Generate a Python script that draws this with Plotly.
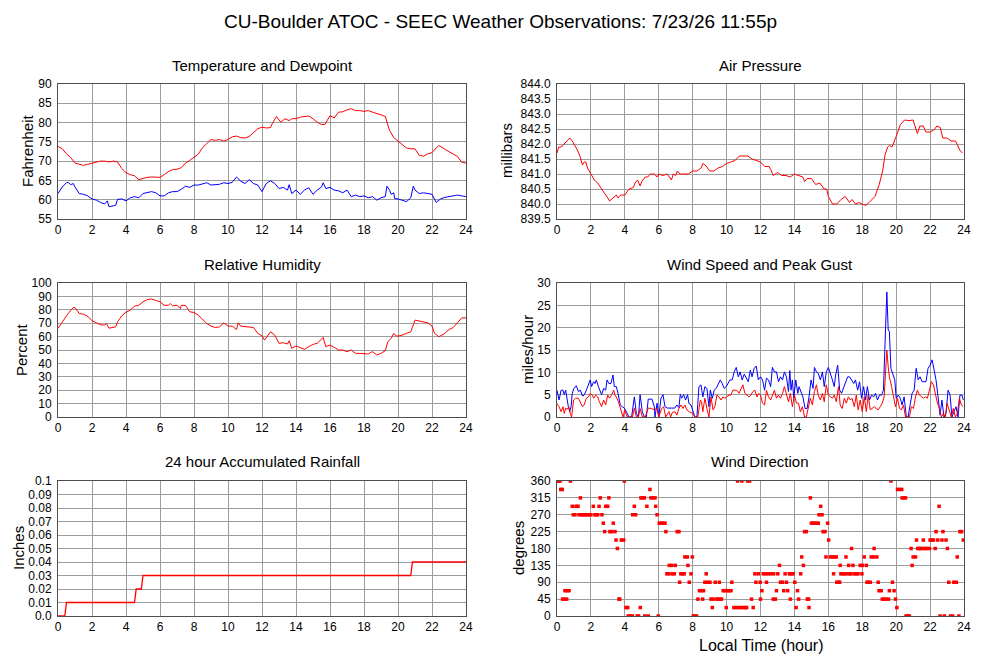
import plotly.graph_objects as go

# ---------------- data ----------------
hour_ticks = list(range(0, 25, 2))

temp_t = [0,0.25,0.5,0.75,1.0,1.25,1.5,1.75,2.0,2.25,2.5,2.75,3.0,3.25,3.5,3.75,4.0,4.25,4.5,4.75,
          5.0,5.25,5.5,5.75,6.0,6.25,6.5,6.75,7.0,7.25,7.5,7.75,8.0,8.25,8.5,8.75,9.0,9.25,9.5,9.75,
          10.0,10.25,10.5,10.75,11.0,11.25,11.5,11.75,12.0,12.25,12.5,12.6,12.85,13.1,13.35,13.6,13.75,
          14.0,14.25,14.5,14.75,15.0,15.25,15.5,15.7,16.0,16.25,16.5,16.75,17.0,17.25,17.5,17.75,18.0,
          18.25,18.5,18.75,19.0,19.25,19.5,19.75,20.0,20.25,20.5,20.75,21.0,21.25,21.5,21.75,22.0,22.25,
          22.4,22.75,23.0,23.25,23.5,23.75,24.0]
temperature = [73.8,73.2,71.9,70.9,69.5,69.2,68.9,69.2,69.5,69.7,70.0,70.0,69.8,70.0,69.8,68.1,67.0,66.5,66.2,65.2,
               65.6,65.8,65.9,65.9,65.8,66.5,67.3,67.8,67.9,68.3,69.5,70.2,70.9,71.8,73.5,74.5,75.6,75.4,75.6,75.2,
               75.6,76.3,76.5,76.1,76.0,76.4,77.5,78.4,78.8,78.6,78.7,79.7,81.6,80.1,81.0,80.5,81.0,
               81.0,81.4,81.6,81.7,81.0,80.1,79.5,79.5,81.8,81.2,82.7,82.8,83.3,83.6,83.1,83.1,82.9,
               83.1,82.7,82.4,82.0,81.6,78.0,76.1,75.2,74.4,73.4,73.2,73.2,71.5,71.3,71.9,72.2,73.4,
               74.1,73.1,72.5,71.9,71.2,69.7,69.5]

dew_t = [0,0.25,0.5,0.6,0.75,0.9,1.0,1.25,1.5,1.75,2.0,2.25,2.5,2.75,2.9,3.0,3.25,3.4,
         3.5,3.75,4.0,4.25,4.5,4.75,5.0,5.25,5.5,5.75,6.0,6.25,6.5,6.75,7.0,7.25,7.5,7.75,8.0,8.25,8.5,8.75,
         9.0,9.25,9.5,9.75,10.0,10.25,10.5,10.75,11.0,11.25,11.5,11.75,12.0,12.25,12.5,12.75,13.0,13.25,13.5,
         13.6,13.75,14.0,14.25,14.5,14.75,15.0,15.25,15.5,15.6,
         15.75,16.0,16.25,16.5,16.75,17.0,17.25,17.5,17.75,18.0,18.25,18.5,18.75,19.0,19.25,
         19.35,19.5,19.6,19.75,19.8,20.0,20.25,20.5,20.75,20.9,
         21.0,21.25,21.5,21.75,22.0,22.25,22.5,22.75,23.0,23.25,23.5,23.75,24.0]
dewpoint = [61.6,63.3,64.4,64.5,63.9,64.2,63.3,61.6,61.4,61.0,60.2,59.9,59.3,58.9,59.7,58.2,58.4,58.6,
            60.1,60.2,59.7,60.5,60.8,60.5,61.6,61.9,62.1,61.8,61.0,61.0,61.8,62.1,62.1,62.7,63.5,63.2,63.8,63.8,64.2,64.4,
            63.8,63.9,64.0,64.4,64.2,64.5,65.9,64.8,64.2,65.2,64.2,63.8,62.1,64.2,64.9,64.2,62.9,63.2,62.5,
            63.9,61.6,62.5,61.4,62.5,63.1,61.4,62.5,63.3,64.4,
            62.9,63.2,62.5,62.3,61.8,62.5,60.8,61.2,60.8,61.0,60.5,60.8,59.9,60.5,60.8,
            63.5,62.5,61.4,61.8,60.3,60.2,59.9,59.5,60.5,63.5,
            62.5,61.6,61.8,61.6,61.4,59.3,60.2,60.6,60.8,61.0,61.2,61.0,60.8]

pres_t = [0,0.1,0.25,0.4,0.5,0.6,0.75,0.9,1.0,1.2,
          1.35,1.5,1.6,1.7,1.8,2.0,2.2,2.4,2.6,2.75,
          3.0,3.1,3.3,3.5,3.6,3.75,4.0,4.25,4.5,4.6,
          4.75,4.9,5.0,5.2,5.35,5.5,5.75,5.9,6.0,6.25,
          6.5,6.6,6.75,6.85,7.0,7.1,7.25,7.5,7.75,8.0,
          8.25,8.5,8.6,8.75,9.0,9.25,9.5,9.75,10.0,10.25,
          10.5,10.75,11.0,11.25,11.5,11.75,12.0,12.25,12.5,12.6,
          12.75,13.0,13.25,13.5,13.75,14.0,14.25,14.5,14.6,14.75,
          15.0,15.25,15.5,15.75,15.9,16.0,16.25,16.5,16.75,17.0,
          17.25,17.4,17.6,17.8,18.0,18.2,18.4,18.6,18.75,19.0,
          19.2,19.35,19.5,19.6,19.75,20.0,20.25,20.5,20.75,21.0,
          21.25,21.4,21.6,21.75,22.0,22.25,22.4,22.6,22.75,23.0,
          23.25,23.5,23.75,23.9]
pressure = [841.7,841.9,841.9,842.0,842.05,842.1,842.2,842.1,842.0,841.8,
            841.6,841.3,841.4,841.4,841.2,841.0,840.8,840.7,840.5,840.4,
            840.2,840.1,840.2,840.3,840.2,840.3,840.3,840.5,840.55,840.7,
            840.8,840.6,840.75,840.9,840.9,841.0,841.0,840.9,841.0,840.95,
            841.0,840.9,840.8,841.0,840.95,841.1,841.0,841.0,841.0,841.1,
            841.1,841.2,841.35,841.3,841.1,841.1,841.2,841.25,841.35,841.4,
            841.45,841.6,841.6,841.6,841.5,841.45,841.4,841.25,841.25,841.15,
            840.95,841.05,840.95,840.95,840.9,841.0,840.95,840.9,840.75,840.85,
            840.85,840.65,840.7,840.5,840.5,840.25,840.0,840.0,840.15,840.25,
            840.05,840.15,840.0,840.05,840.0,839.95,840.05,840.15,840.25,840.65,
            841.1,841.65,841.9,841.95,841.9,842.25,842.65,842.8,842.78,842.8,
            842.35,842.6,842.6,842.4,842.4,842.48,842.6,842.55,842.2,842.2,
            842.1,842.1,841.8,841.7]

rh_t = [0,0.25,0.5,0.75,0.9,1.0,1.25,1.5,1.75,2.0,
        2.25,2.5,2.75,2.85,3.0,3.25,3.4,3.5,3.75,4.0,
        4.25,4.5,4.75,5.0,5.25,5.5,5.75,6.0,6.25,6.5,
        6.6,6.75,7.0,7.2,7.25,7.5,7.75,8.0,8.25,8.5,
        8.75,9.0,9.25,9.5,9.75,10.0,10.25,10.5,10.6,10.75,
        11.0,11.25,11.5,11.75,12.0,12.15,12.25,12.5,12.75,13.0,
        13.25,13.5,13.6,13.75,14.0,14.25,14.5,14.75,15.0,15.25,
        15.5,15.6,15.75,16.0,16.25,16.5,16.75,17.0,17.25,17.5,
        17.75,18.0,18.25,18.5,18.75,19.0,19.25,19.4,19.6,19.75,
        19.9,20.0,20.25,20.5,20.75,21.0,21.25,21.5,21.75,22.0,
        22.15,22.4,22.75,23.0,23.25,23.5,23.75,24.0]
humidity = [66.1,71.0,75.5,79.7,81.7,81.7,77.2,76.7,75.2,71.8,
            70.3,68.8,68.6,69.8,66.3,66.8,67.3,71.0,75.5,78.2,
            79.7,82.7,83.4,85.9,87.6,88.1,87.1,85.9,83.4,83.4,
            84.7,82.9,83.4,80.9,83.4,83.2,78.5,78.0,76.0,73.0,
            69.8,67.8,66.8,67.3,70.3,67.8,67.8,65.3,70.3,67.8,
            67.3,66.8,66.8,62.4,60.6,57.4,59.4,63.6,61.1,55.0,
            55.4,54.5,56.9,51.2,53.0,52.0,50.5,52.5,54.2,55.0,
            57.9,59.4,52.5,53.7,52.0,50.0,50.0,48.8,50.0,47.5,
            47.5,47.0,47.0,48.8,46.3,47.5,49.5,56.2,58.7,62.4,
            60.4,60.4,61.1,62.4,63.6,72.3,71.8,71.0,70.3,67.8,
            62.4,59.9,62.4,65.3,66.8,70.3,74.0,74.0]

gust_t = [0,0.12,0.24,0.35,0.43,0.51,0.67,0.75,0.83,0.9,
          1.0,1.14,1.26,1.38,1.5,1.6,1.73,1.85,1.96,2.04,
          2.16,2.24,2.32,2.44,2.55,2.63,2.75,2.87,2.95,3.06,
          3.18,3.3,3.38,3.5,3.6,3.73,3.85,3.97,4.09,4.24,
          4.4,4.56,4.68,4.8,4.9,5.03,5.15,5.27,5.38,5.5,
          5.6,5.74,5.78,5.9,6.0,6.13,6.25,6.37,6.5,6.76,
          6.95,7.07,7.19,7.27,7.35,7.47,7.58,7.7,7.78,7.9,
          8.0,8.13,8.25,8.37,8.49,8.6,8.72,8.84,8.96,9.04,
          9.16,9.27,9.39,9.5,9.63,9.74,9.86,9.98,10.1,10.2,
          10.33,10.45,10.57,10.69,10.8,10.92,11.04,11.16,11.28,11.4,
          11.5,11.63,11.75,11.87,
          12.0,12.12,12.24,12.35,12.47,12.6,12.7,12.82,12.94,13.06,
          13.18,13.3,13.41,13.53,13.65,13.73,13.8,13.88,13.96,14.08,
          14.2,14.27,14.4,14.5,14.63,14.75,14.86,14.98,15.1,15.18,
          15.3,15.4,15.53,15.65,15.76,15.88,16.0,16.12,16.24,16.35,
          16.43,16.55,16.67,16.78,16.9,17.0,17.14,17.25,17.37,17.5,
          17.6,17.73,17.84,17.96,18.08,18.2,18.3,18.43,18.55,18.67,
          18.78,18.9,19.02,19.14,19.25,19.33,19.41,19.45,19.53,19.6,
          19.69,19.8,19.92,20.0,20.12,20.24,20.35,20.47,20.6,20.7,
          20.82,20.94,21.06,21.18,21.3,21.41,21.53,21.65,21.76,21.88,
          22.0,22.12,22.24,22.35,22.47,22.59,22.7,22.82,22.94,23.06,
          23.18,23.29,23.41,23.53,23.65,23.76,23.88,23.96]
gust = [6.0,3.8,6.0,6.0,5.0,6.0,2.3,1.2,2.3,5.3,
        6.4,7.0,5.7,6.0,4.7,4.9,6.0,7.2,8.3,6.8,
        7.9,7.5,8.3,6.8,5.7,5.0,6.4,6.0,8.3,7.5,
        7.5,9.4,6.8,6.8,5.3,2.7,2.3,2.0,1.2,0,
        0,4.5,0.8,0,5.0,1.2,0,0,4.0,4.0,
        4.0,2.3,0,3.1,0,4.2,5.0,2.3,2.0,2.0,
        2.0,2.7,2.1,5.1,4.2,5.0,3.8,5.0,3.0,2.7,
        1.6,0,0,6.8,7.2,4.5,6.8,6.4,2.3,6.0,
        4.2,6.0,6.4,7.2,8.3,7.5,6.4,6.8,7.5,8.3,
        8.3,10.1,11.1,9.0,10.1,8.3,9.6,8.7,7.9,10.5,
        9.0,10.9,11.4,8.3,
        9.0,8.3,6.0,8.7,8.3,6.8,11.1,10.1,10.1,7.9,
        9.0,8.3,10.1,9.0,5.7,10.4,6.0,8.3,4.2,8.3,
        5.3,6.8,5.7,4.5,1.9,1.9,4.5,8.3,6.4,11.1,
        10.1,9.8,8.3,10.1,6.8,10.1,11.1,9.4,8.3,6.8,
        9.4,11.6,6.0,5.3,6.4,7.5,9.0,9.0,8.3,7.5,
        8.3,6.0,7.9,4.2,6.8,3.8,6.8,3.8,4.9,4.5,
        5.3,3.8,4.9,4.9,6.0,17.2,26.2,28.0,19.5,19.1,
        10.9,9.4,8.3,4.2,4.9,4.2,2.7,4.5,0,0,
        2.3,5.3,6.0,10.9,8.3,9.0,7.9,7.9,7.9,10.9,
        11.6,12.8,10.5,8.3,4.5,0.4,3.8,0,0.8,6.0,
        4.9,0,1.2,2.3,0,4.9,4.9,3.8]

speed_t = [0,0.12,0.24,0.35,0.43,0.51,0.59,0.7,0.78,0.86,
           0.98,1.1,1.26,1.38,1.5,1.6,1.73,1.85,1.96,2.08,
           2.16,2.28,2.4,2.5,2.63,2.75,2.87,2.99,3.1,3.22,
           3.34,3.42,3.54,3.65,3.77,3.89,4.0,4.13,4.3,4.45,
           4.56,4.68,4.8,4.9,5.03,5.2,5.38,5.57,5.74,5.9,
           6.0,6.17,6.29,6.41,6.6,6.7,6.8,6.95,7.07,7.19,
           7.31,7.43,7.54,7.66,7.78,7.9,8.0,8.13,8.3,8.45,
           8.52,8.6,8.72,8.84,8.96,9.08,9.2,9.31,9.43,9.55,
           9.67,9.78,9.9,10.0,10.14,10.25,10.37,10.49,10.6,10.73,
           10.84,10.96,11.08,11.2,11.32,11.43,11.55,11.67,11.79,11.9,
           12.0,12.12,12.24,12.35,12.47,12.6,12.7,12.82,12.94,13.06,
           13.18,13.3,13.41,13.53,13.65,13.76,13.88,14.0,14.12,14.24,
           14.35,14.47,14.6,14.7,14.82,14.94,15.06,15.18,15.3,15.4,
           15.53,15.65,15.76,15.88,16.0,16.12,16.24,16.35,16.47,16.6,
           16.7,16.82,16.94,17.06,17.18,17.3,17.4,17.53,17.65,17.76,
           17.88,18.0,18.12,18.24,18.35,18.47,18.59,18.71,18.82,18.94,
           19.06,19.18,19.29,19.37,19.45,19.53,19.6,19.73,19.84,19.96,
           20.08,20.2,20.31,20.43,20.55,20.67,20.78,20.9,21.02,21.14,
           21.25,21.37,21.49,21.61,21.73,21.84,21.96,22.08,22.2,22.3,
           22.43,22.55,22.67,22.78,22.9,23.0,23.14,23.25,23.37,23.49,
           23.61,23.73,23.84,23.96]
speed = [3.0,2.3,1.2,2.3,0.8,2.0,1.7,2.3,0.8,0,
         3.8,4.2,4.2,3.4,2.3,2.7,4.2,4.5,5.3,4.9,
         4.2,4.9,4.5,3.4,2.3,3.8,2.7,4.9,4.2,4.9,
         6.0,4.9,4.2,3.1,1.2,0,1.6,0,0,0,
         2.0,0,0,1.9,0,0,2.0,1.9,1.6,1.9,
         0,1.9,2.3,0,1.2,0,1.0,1.2,0.4,1.9,
         2.7,1.9,2.7,1.6,1.2,1.0,0.8,0,0,3.8,
         3.4,1.2,4.2,1.9,0,4.5,1.6,2.3,4.9,4.5,
         3.8,4.5,4.2,4.5,4.9,4.9,6.0,6.0,6.0,5.3,
         6.4,7.2,5.3,4.9,4.5,4.9,5.7,6.0,4.5,5.3,
         4.9,3.1,2.7,6.0,4.5,3.8,4.9,6.0,4.2,4.9,
         4.2,5.3,6.8,5.3,3.4,5.3,2.3,4.9,3.1,3.1,
         1.2,2.3,0,0,1.9,4.2,2.7,5.7,7.2,4.9,
         3.8,5.3,3.4,7.2,4.9,4.5,4.2,4.9,3.4,6.8,
         2.7,1.9,4.2,3.1,4.5,3.8,4.2,2.3,4.9,1.6,
         3.8,1.2,4.5,1.2,4.9,1.6,1.9,2.3,1.9,1.6,
         2.3,3.1,4.5,9.8,15.0,11.3,9.0,6.8,4.5,2.3,
         4.2,1.9,1.6,2.7,0,0,0,2.3,1.9,4.5,
         6.0,4.9,4.5,4.2,4.5,4.2,6.0,7.9,7.2,5.3,
         3.1,1.9,0,0.8,0,3.1,1.2,0,1.9,0,
         0.8,4.2,2.7,2.3]

rain_t = [0, 0.4, 0.5, 4.5, 4.6, 4.9, 5.0, 20.75, 20.85, 24]
rain = [0, 0, 0.01, 0.01, 0.02, 0.02, 0.03, 0.03, 0.04, 0.04]
rain_ticks = [0, 0.01, 0.02, 0.03, 0.04, 0.05, 0.06, 0.07, 0.08, 0.09, 0.1]
rain_labels = ["0.0", "0.01", "0.02", "0.03", "0.04", "0.05", "0.06", "0.07", "0.08", "0.09", "0.1"]

dir_t = [0.0,0.09,0.18,0.22,0.31,0.33,0.45,0.47,0.57,0.59,
         0.71,0.79,0.9,0.96,1.06,1.12,1.24,1.3,1.38,1.42,
         1.5,1.6,1.7,1.8,1.9,2.0,2.14,2.24,2.32,2.4,
         2.48,2.55,2.65,2.73,2.81,2.87,2.99,3.06,3.12,3.22,
         3.32,3.42,3.48,3.56,3.65,3.7,3.79,3.93,3.97,4.07,
         4.17,4.2,4.3,4.44,4.46,4.56,4.64,4.73,4.81,4.91,
         4.95,5.05,5.15,5.18,5.3,5.38,5.48,5.54,5.66,5.78,
         5.82,5.9,5.97,6.03,6.15,6.25,6.37,6.42,6.48,6.6,
         6.62,6.76,6.8,6.92,6.97,7.09,7.19,7.23,7.3,7.4,
         7.5,7.54,7.68,7.72,7.8,7.9,7.98,8.04,8.14,8.23,
         8.31,8.4,8.52,8.59,8.64,8.72,8.8,8.87,9.02,9.08,
         9.16,9.2,9.33,9.4,9.5,9.57,9.62,9.7,9.8,9.9,
         9.98,10.05,10.15,10.26,10.31,10.43,10.55,10.65,10.7,10.85,
         10.9,11.0,11.1,11.18,11.24,11.36,11.47,11.57,11.67,11.73,
         11.87,11.98,12.0,12.08,12.16,12.3,12.35,12.45,12.6,12.75,
         12.78,12.88,12.94,13.02,13.12,13.18,13.3,13.37,13.45,13.53,
         13.6,13.7,13.76,13.8,13.92,14.02,14.1,14.18,14.25,14.37,
         14.43,14.53,14.6,14.7,14.76,14.84,14.86,14.94,15.0,15.1,
         15.2,15.3,15.41,15.45,15.55,15.63,15.69,15.8,15.86,15.96,
         16.02,16.12,16.25,16.31,16.35,16.47,16.5,16.6,16.67,16.7,
         16.74,16.85,16.95,17.04,17.1,17.2,17.25,17.33,17.37,17.45,
         17.53,17.65,17.75,17.88,17.98,18.0,18.12,18.24,18.28,18.35,
         18.47,18.53,18.65,18.7,18.86,18.94,18.99,19.12,19.18,19.3,
         19.42,19.55,19.6,19.69,19.78,19.88,19.96,20.04,20.08,20.2,
         20.33,20.35,20.45,20.55,20.58,20.68,20.78,20.88,20.94,21.0,
         21.14,21.2,21.27,21.35,21.45,21.55,21.6,21.7,21.8,21.96,
         22.0,22.1,22.2,22.3,22.35,22.45,22.53,22.59,22.7,22.76,
         22.84,22.94,23.02,23.1,23.2,23.33,23.4,23.55,23.6,23.7,
         23.76,23.86,23.96]
dir_deg = [360,360,360,337.5,337.5,45,45,67.5,45,67.5,
           67.5,360,292.5,270,270,292.5,292.5,270,315,270,
           270,270,270,270,270,270,292.5,270,270,270,
           292.5,315,270,247.5,225,292.5,292.5,315,225,225,
           247.5,225,202.5,180,45,45,202.5,202.5,360,22.5,
           22.5,0,0,0,270,292.5,270,0,0,22.5,
           315,315,315,0,292.5,0,337.5,315,315,315,
           292.5,270,0,247.5,247.5,247.5,247.5,225,112.5,112.5,
           135,135,112.5,112.5,135,225,225,90,112.5,112.5,
           112.5,157.5,157.5,135,90,112.5,157.5,0,0,0,
           45,67.5,67.5,45,67.5,90,112.5,90,90,45,
           22.5,45,90,45,45,90,45,45,67.5,67.5,
           22.5,67.5,67.5,67.5,90,22.5,22.5,360,22.5,22.5,
           360,22.5,22.5,22.5,360,360,45,22.5,112.5,90,
           112.5,90,45,67.5,112.5,112.5,90,112.5,112.5,45,
           112.5,45,67.5,112.5,135,90,90,67.5,112.5,90,
           67.5,112.5,45,112.5,112.5,90,22.5,67.5,45,112.5,
           157.5,135,225,225,45,45,22.5,315,247.5,247.5,
           247.5,247.5,247.5,270,292.5,270,225,225,157.5,247.5,
           202.5,157.5,157.5,112.5,157.5,157.5,90,90,90,135,
           112.5,112.5,112.5,157.5,112.5,135,112.5,112.5,180,135,
           112.5,112.5,112.5,135,112.5,135,157.5,135,90,90,
           90,157.5,157.5,180,157.5,90,67.5,67.5,45,45,
           45,45,67.5,360,90,67.5,45,22.5,337.5,337.5,
           337.5,315,315,315,0,0,0,180,135,157.5,
           157.5,202.5,180,180,180,180,202.5,180,180,180,
           202.5,202.5,202.5,180,225,202.5,292.5,0,202.5,225,
           0,202.5,180,90,0,0,90,90,157.5,0,
           225,225,202.5]

# ---------------- figure ----------------
W, H = 1000, 660
FONT = "Liberation Sans, Arial, Helvetica, sans-serif"
RED = "#ff0000"
BLUE = "#0000ff"
GRID = "#9c9c9c"
FRAME = "#4d4d4d"

# panel pixel boxes: (left, right, top, bottom)
boxes = {
    1: (58, 466, 84, 219),
    2: (557, 964, 84, 219),
    3: (58, 466, 283, 417),
    4: (557, 964, 283, 417),
    5: (58, 466, 481, 616),
    6: (557, 964, 481, 616),
}

fig = go.Figure()

def add_line(n, x, y, color, width=1):
    fig.add_trace(go.Scatter(
        x=x, y=y, mode="lines", line=dict(color=color, width=width),
        xaxis="x" if n == 1 else f"x{n}", yaxis="y" if n == 1 else f"y{n}",
        showlegend=False, hoverinfo="skip"))

add_line(1, temp_t, temperature, RED)
add_line(1, dew_t, dewpoint, BLUE)
add_line(2, pres_t, pressure, RED)
add_line(3, rh_t, humidity, RED)
add_line(4, gust_t, gust, BLUE)
add_line(4, speed_t, speed, RED)
add_line(5, rain_t, rain, RED, 1.3)
fig.add_trace(go.Scatter(
    x=dir_t, y=dir_deg, mode="markers",
    marker=dict(color=RED, size=3.5, symbol="square", line=dict(width=0)),
    xaxis="x6", yaxis="y6", showlegend=False, hoverinfo="skip"))

yspecs = {
    1: dict(range=[55, 90], dtick=5, tick0=55),
    2: dict(range=[839.5, 844.0], dtick=0.5, tick0=839.5, tickformat=".1f"),
    3: dict(range=[0, 100], dtick=10, tick0=0),
    4: dict(range=[0, 30], dtick=5, tick0=0),
    5: dict(range=[0, 0.1], tickmode="array", tickvals=rain_ticks, ticktext=rain_labels),
    6: dict(range=[0, 360], dtick=45, tick0=0),
}

layout = dict(
    template="none",
    width=W, height=H,
    margin=dict(l=0, r=0, t=0, b=0, pad=0, autoexpand=False),
    paper_bgcolor="white", plot_bgcolor="white",
    font=dict(family=FONT, color="black", size=12),
    showlegend=False,
)

for n, (l, r, t, b) in boxes.items():
    xa = dict(
        domain=[l / W, r / W], range=[0, 24],
        tickmode="array", tickvals=hour_ticks,
        showgrid=True, gridcolor=GRID, gridwidth=1,
        showline=True, linecolor=FRAME, linewidth=1, mirror=True,
        ticks="", zeroline=False, fixedrange=True, automargin=False,
        tickfont=dict(size=12, family=FONT, color="black"),
        anchor="y" if n == 1 else f"y{n}",
    )
    ya = dict(
        domain=[1 - b / H, 1 - t / H],
        showgrid=True, gridcolor=GRID, gridwidth=1,
        showline=True, linecolor=FRAME, linewidth=1, mirror=True,
        ticks="", zeroline=False, fixedrange=True, automargin=False,
        ticklabelstandoff=3,
        tickfont=dict(size=12, family=FONT, color="black"),
        anchor="x" if n == 1 else f"x{n}",
        **yspecs[n],
    )
    layout["xaxis" if n == 1 else f"xaxis{n}"] = xa
    layout["yaxis" if n == 1 else f"yaxis{n}"] = ya

fig.update_layout(**layout)

def text(x, y, s, size, angle=0):
    fig.add_annotation(x=x / W, y=1 - y / H, xref="paper", yref="paper",
                       text=s, showarrow=False, textangle=angle,
                       xanchor="center", yanchor="middle",
                       font=dict(family=FONT, size=size, color="black"))

text(500, 21, "CU-Boulder ATOC - SEEC Weather Observations: 7/23/26 11:55p", 19)
text(262, 65, "Temperature and Dewpoint", 15)
text(760, 65, "Air Pressure", 15)
text(262, 264, "Relative Humidity", 15)
text(760, 264, "Wind Speed and Peak Gust", 15)
text(262, 462, "24 hour Accumulated Rainfall", 15)
text(760, 462, "Wind Direction", 15)
text(28, 151, "Fahrenheit", 15, -90)
text(507, 151, "millibars", 15, -90)
text(21, 350, "Percent", 15, -90)
text(527, 350, "miles/hour", 15, -90)
text(18, 548, "Inches", 15, -90)
text(518, 548, "degrees", 15, -90)
text(761, 645, "Local Time (hour)", 16)

fig.write_html(
    "out.html",
    config={"displayModeBar": False},
    post_script="document.body.style.margin='0';document.body.style.padding='0';"
                "document.documentElement.style.overflow='hidden';",
)
